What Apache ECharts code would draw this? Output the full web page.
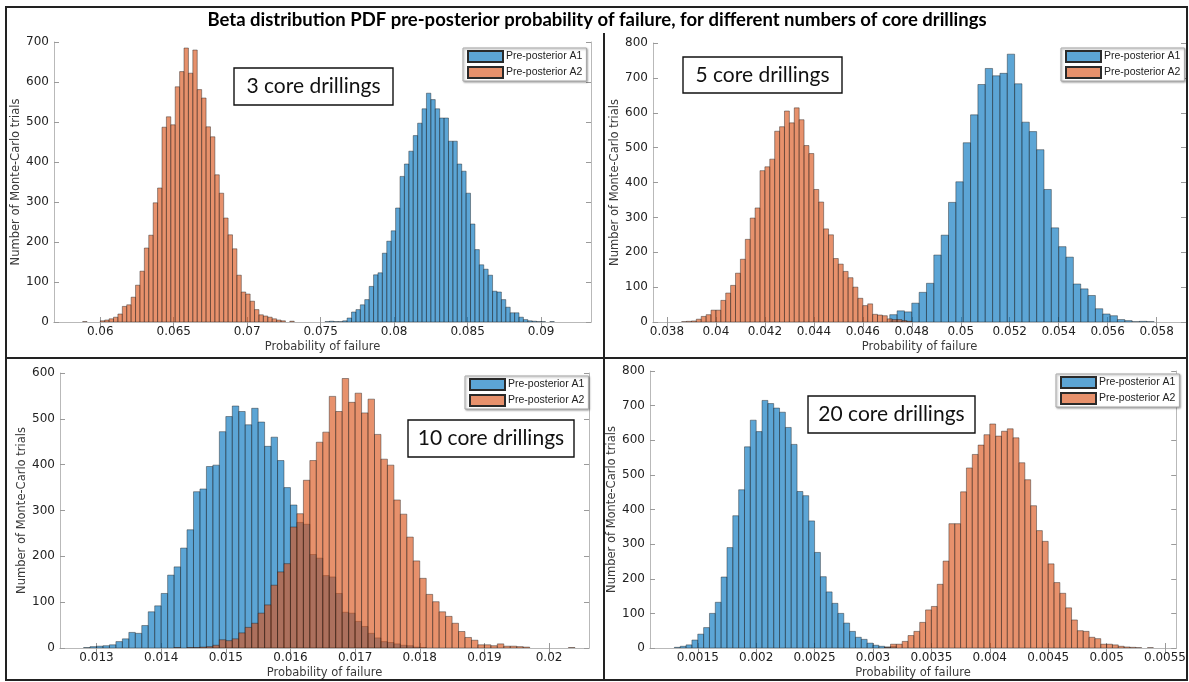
<!DOCTYPE html>
<html>
<head>
<meta charset="utf-8">
<script src="https://cdn.jsdelivr.net/npm/echarts@6/dist/echarts.min.js"></script>
<style>
  html, body { margin: 0; padding: 0; background: #fff; }
  #chart { width: 1189px; height: 682px; }
</style>
</head>
<body>
<div id="chart"></div>
<script>
// ---------------------------------------------------------------
// Texts
// ---------------------------------------------------------------
const figureTitle = 'Beta distribution PDF pre-posterior probability of failure, for different numbers of core drillings';
const seriesNames = ['Pre-posterior A1', 'Pre-posterior A2'];
const panelLabels = ['3 core drillings', '5 core drillings', '10 core drillings', '20 core drillings'];
const xAxisName = 'Probability of failure';
const yAxisName = 'Number of Monte-Carlo trials';

// ---------------------------------------------------------------
// Histogram counts (Monte-Carlo trials per bin)
// ---------------------------------------------------------------
// 3 core drillings
const p1BinWidth = 0.0003;
const p1A1Start = 0.0753;
const p1A1Counts = [1, 2, 1, 1, 3, 10, 25, 31, 43, 56, 89, 118, 123, 172, 202, 228, 285, 364, 395, 427,
  466, 497, 533, 572, 556, 533, 510, 510, 452, 452, 395, 377, 322, 245, 181, 143, 132, 117, 77, 75,
  56, 37, 23, 23, 12, 6, 3, 2, 1, 1, 0, 1];
const p1A2Start = 0.0588;
const p1A2Counts = [1, 0, 0, 0, 3, 5, 8, 12, 20, 39, 43, 62, 92, 127, 185, 217, 298, 335, 487, 513,
  493, 588, 626, 685, 622, 680, 581, 560, 488, 463, 368, 322, 260, 218, 183, 117, 75, 70, 52, 31,
  18, 15, 12, 8, 5, 3, 0, 2];
const p1XTicks = [0.06, 0.065, 0.07, 0.075, 0.08, 0.085, 0.09];
const p1XLimits = [0.05685, 0.0934];
const p1YMax = 700;

// 5 core drillings
const p2A1BinWidth = 0.0003;
const p2A1Start = 0.0471;
const p2A1Counts = [21, 32, 29, 54, 85, 111, 192, 249, 343, 402, 514, 594, 681, 727, 706, 713, 768, 683,
  573, 546, 494, 380, 270, 216, 186, 109, 95, 76, 38, 23, 18, 7, 4, 1, 2, 1];
const p2A2BinWidth = 0.0002;
const p2A2Start = 0.0386;
const p2A2Counts = [1, 2, 3, 8, 16, 21, 34, 34, 62, 83, 105, 140, 180, 237, 298, 327, 434, 445, 467, 547,
  560, 605, 571, 614, 580, 506, 483, 380, 344, 267, 250, 182, 166, 145, 127, 100, 68, 47, 52, 22,
  20, 18, 9, 7, 7, 4, 2];
const p2XTicks = [0.038, 0.04, 0.042, 0.044, 0.046, 0.048, 0.05, 0.052, 0.054, 0.056, 0.058];
const p2XLimits = [0.03743, 0.0592];
const p2YMax = 800;

// 10 core drillings
const p3BinWidth = 0.0001;
const p3A1Start = 0.0128;
const p3A1Counts = [1, 3, 4, 5, 7, 14, 20, 34, 32, 49, 79, 92, 119, 159, 177, 218, 258, 341, 347, 396,
  399, 472, 505, 528, 516, 487, 523, 493, 440, 460, 409, 350, 312, 274, 270, 204, 196, 158, 155, 119,
  78, 76, 58, 47, 32, 22, 14, 12, 9, 6, 5, 2, 1];
const p3A2Start = 0.0142;
const p3A2Counts = [1, 0, 1, 1, 2, 3, 6, 18, 16, 20, 33, 45, 54, 76, 94, 137, 166, 184, 264, 293,
  366, 409, 449, 471, 549, 516, 588, 536, 556, 513, 543, 466, 412, 399, 323, 292, 242, 190, 152, 117,
  101, 79, 69, 54, 36, 23, 17, 7, 7, 5, 9, 4, 4, 3, 2, 0, 0, 0, 0, 0, 0, 1];
const p3XTicks = [0.013, 0.014, 0.015, 0.016, 0.017, 0.018, 0.019, 0.02];
const p3XLimits = [0.012435, 0.020618];
const p3YMax = 600;

// 20 core drillings
const p4BinWidth = 0.00005;
const p4A1Start = 0.0013;
const p4A1Counts = [2, 5, 9, 23, 40, 59, 100, 132, 205, 290, 382, 457, 581, 658, 625, 715, 706, 693, 681, 637,
  588, 452, 440, 367, 276, 206, 162, 129, 100, 72, 48, 31, 25, 14, 8, 5, 3, 4];
const p4A2Start = 0.0031;
const p4A2Counts = [2, 11, 11, 19, 36, 48, 74, 110, 120, 184, 251, 359, 359, 451, 520, 559, 586, 616, 647, 612,
  626, 633, 607, 535, 486, 411, 339, 308, 243, 189, 158, 116, 81, 50, 48, 31, 27, 11, 11, 9,
  5, 3, 2, 1, 0, 1];
const p4XTicks = [0.0015, 0.002, 0.0025, 0.003, 0.0035, 0.004, 0.0045, 0.005, 0.0055];
const p4XLimits = [0.001091, 0.005596];
const p4YMax = 800;

// ---------------------------------------------------------------
// Panel setup
// ---------------------------------------------------------------
const panels = [
  { ticks: p1XTicks, limits: p1XLimits, yMax: p1YMax,
    a1: [p1A1Start, p1BinWidth, p1A1Counts], a2: [p1A2Start, p1BinWidth, p1A2Counts],
    grid: { left: 54, top: 42, width: 537, height: 280 },
    legend: { left: 463, top: 48 },
    box: { x: 234, y: 68, w: 159, h: 37 } },
  { ticks: p2XTicks, limits: p2XLimits, yMax: p2YMax,
    a1: [p2A1Start, p2A1BinWidth, p2A1Counts], a2: [p2A2Start, p2A2BinWidth, p2A2Counts],
    grid: { left: 653, top: 43, width: 533, height: 279 },
    legend: { left: 1061, top: 48 },
    box: { x: 683, y: 57, w: 159, h: 36 } },
  { ticks: p3XTicks, limits: p3XLimits, yMax: p3YMax,
    a1: [p3A1Start, p3BinWidth, p3A1Counts], a2: [p3A2Start, p3BinWidth, p3A2Counts],
    grid: { left: 60, top: 373, width: 529, height: 275 },
    legend: { left: 465, top: 376 },
    box: { x: 408, y: 420, w: 166, h: 37 } },
  { ticks: p4XTicks, limits: p4XLimits, yMax: p4YMax,
    a1: [p4A1Start, p4BinWidth, p4A1Counts], a2: [p4A2Start, p4BinWidth, p4A2Counts],
    grid: { left: 650, top: 371, width: 532, height: 277 },
    legend: { left: 1056, top: 374 },
    box: { x: 808, y: 396, w: 167, h: 37 } }
];

const fillA1 = 'rgba(0,114,189,0.64)';
const fillA2 = 'rgba(217,83,25,0.64)';
const edgeColor = 'rgba(25,25,25,0.6)';
const axisColor = '#b9b9b9';
const tickFont = 'DejaVu Sans';

// Histogram bins -> [lower edge, upper edge, count]
function binRows(start, width, counts) {
  return counts.map((c, i) => [start + i * width, start + (i + 1) * width, c]);
}

function histBar(fill) {
  return function (params, api) {
    const count = api.value(2);
    if (!count) return null;
    const lo = api.coord([api.value(0), 0]);
    const hi = api.coord([api.value(1), count]);
    return {
      type: 'rect',
      shape: { x: lo[0], y: hi[1], width: hi[0] - lo[0], height: lo[1] - hi[1] },
      style: { fill: fill, stroke: edgeColor, lineWidth: 0.7 }
    };
  };
}

function tickText(v) {
  return String(parseFloat(Number(v).toPrecision(6)));
}

const grids = [], xAxes = [], yAxes = [], series = [], legends = [], graphics = [];

panels.forEach((p, k) => {
  grids.push(Object.assign({ containLabel: false }, p.grid));

  const baseX = {
    type: 'value', gridIndex: k, min: p.limits[0], max: p.limits[1],
    splitLine: { show: false },
    axisLine: { show: true, lineStyle: { color: axisColor, width: 1 } },
    axisTick: { show: true, inside: true, length: 5, customValues: p.ticks, lineStyle: { color: '#9a9a9a' } }
  };
  xAxes.push(Object.assign({}, baseX, {
    position: 'bottom',
    name: xAxisName, nameLocation: 'middle', nameGap: 19,
    nameTextStyle: { fontFamily: tickFont, fontSize: 11.5, color: '#3a3a3a' },
    axisLabel: { show: true, customValues: p.ticks, formatter: tickText, margin: 4,
      fontFamily: tickFont, fontSize: 12, color: '#222' }
  }));
  xAxes.push(Object.assign({}, baseX, {
    position: 'top', axisLabel: { show: false }
  }));

  const baseY = {
    type: 'value', gridIndex: k, min: 0, max: p.yMax, interval: 100,
    splitLine: { show: false },
    axisLine: { show: true, lineStyle: { color: axisColor, width: 1 } },
    axisTick: { show: true, inside: true, length: 5, lineStyle: { color: '#9a9a9a' } }
  };
  yAxes.push(Object.assign({}, baseY, {
    position: 'left',
    name: yAxisName, nameLocation: 'middle', nameGap: 29, nameRotate: 90,
    nameTextStyle: { fontFamily: tickFont, fontSize: 11.5, color: '#3a3a3a' },
    axisLabel: { margin: 5, fontFamily: tickFont, fontSize: 12, color: '#222' }
  }));
  yAxes.push(Object.assign({}, baseY, {
    position: 'right', axisLabel: { show: false }
  }));

  [[p.a1, fillA1, seriesNames[0]], [p.a2, fillA2, seriesNames[1]]].forEach(([h, fill, name], j) => {
    series.push({
      type: 'custom', name: name,
      xAxisIndex: 2 * k, yAxisIndex: 2 * k,
      coordinateSystem: 'cartesian2d',
      clip: true,
      z: 2 + j,
      dimensions: ['lo', 'hi', 'count'],
      encode: { x: ['lo', 'hi'], y: 'count' },
      itemStyle: { color: fill, borderColor: '#2a2a2a', borderWidth: 0.8 },
      renderItem: histBar(fill),
      data: binRows(h[0], h[1], h[2])
    });
  });

  legends.push({
    left: p.legend.left, top: p.legend.top,
    orient: 'vertical', icon: 'rect',
    itemWidth: 35, itemHeight: 11, itemGap: 3,
    padding: [2, 4, 2, 4],
    backgroundColor: '#fff', borderColor: '#a8a8a8', borderWidth: 1,
    shadowColor: 'rgba(0,0,0,0.35)', shadowBlur: 2, shadowOffsetX: 1, shadowOffsetY: 1,
    selectedMode: false,
    textStyle: { fontFamily: 'Liberation Sans', fontSize: 10.5, color: '#222', padding: [0, 0, 0, -2] },
    data: seriesNames
  });

  graphics.push({
    type: 'rect', z: 100, silent: true,
    shape: { x: p.box.x, y: p.box.y, width: p.box.w, height: p.box.h },
    style: { fill: '#fff', stroke: '#111', lineWidth: 1.4 }
  });
  graphics.push({
    type: 'text', z: 101, silent: true,
    x: p.box.x + p.box.w / 2, y: p.box.y + p.box.h / 2,
    style: { text: panelLabels[k], font: '21px Lato', fill: '#111',
      textAlign: 'center', textVerticalAlign: 'middle', verticalAlign: 'middle' }
  });
});

// Outer frame, panel dividers and figure title
graphics.push(
  { type: 'rect', z: 100, silent: true, shape: { x: 6, y: 7, width: 1181, height: 673 },
    style: { fill: null, stroke: '#222', lineWidth: 2 } },
  { type: 'line', z: 100, silent: true, shape: { x1: 6, y1: 358, x2: 1187, y2: 358 },
    style: { stroke: '#222', lineWidth: 2 } },
  { type: 'line', z: 100, silent: true, shape: { x1: 604, y1: 33, x2: 604, y2: 680 },
    style: { stroke: '#222', lineWidth: 2 } },
  { type: 'text', z: 101, silent: true, x: 597, y: 20,
    style: { text: figureTitle, font: 'bold 18.5px Lato', fill: '#000',
      textAlign: 'center', textVerticalAlign: 'middle', verticalAlign: 'middle' } }
);

const chart = echarts.init(document.getElementById('chart'), null, { renderer: 'canvas' });
chart.setOption({
  backgroundColor: '#fff',
  animation: false,
  grid: grids,
  xAxis: xAxes,
  yAxis: yAxes,
  legend: legends,
  series: series,
  graphic: graphics
});
</script>
</body>
</html>
